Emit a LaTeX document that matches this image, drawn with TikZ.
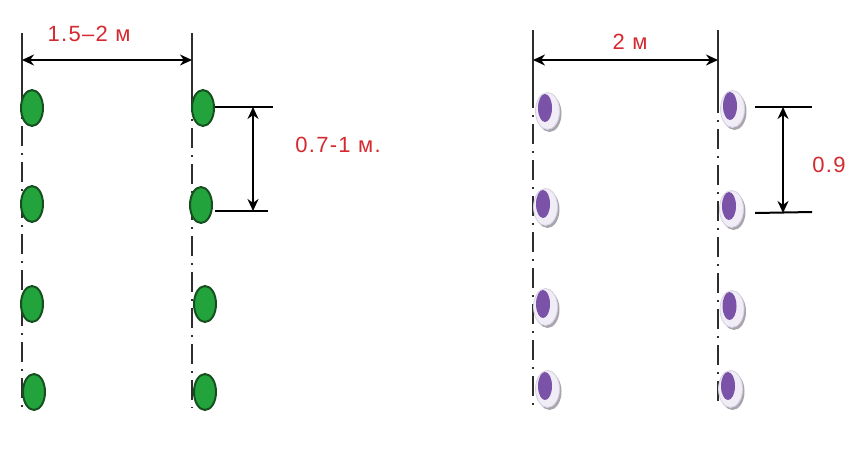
\documentclass[tikz,border=0pt]{standalone}
\usepackage{fontspec}
\setmainfont{Liberation Sans}
\usetikzlibrary{shapes.geometric,arrows.meta,shadows}
\definecolor{gfill}{HTML}{22A33C}
\definecolor{gdark}{HTML}{17501F}
\definecolor{pfill}{HTML}{7A52A8}
\definecolor{pring}{HTML}{F1EDF7}
\definecolor{pedge}{HTML}{D6CFE0}
\definecolor{pshadow}{HTML}{A09CA6}
\definecolor{lbl}{HTML}{D42A2F}
\definecolor{axis}{HTML}{2E2E2E}
\begin{document}
\begin{tikzpicture}[x=1pt,y=-1pt,
  gplant/.style={ellipse, draw=gdark, fill=gfill, line width=2pt, minimum width=22pt, minimum height=36pt, inner sep=0pt},
  pouter/.style={ellipse, fill=pring, draw=pedge, line width=0.8pt, minimum width=24pt, minimum height=37pt, inner sep=0pt, drop shadow={shadow xshift=2pt, shadow yshift=-2.5pt, fill=pshadow, opacity=0.9}},
  pinner/.style={ellipse, fill=pfill, minimum width=14pt, minimum height=28pt, inner sep=0pt},
  rowsolid/.style={draw=axis, line width=2.2pt},
  rowline/.style={draw=axis, line width=2.2pt, dash pattern=on 20pt off 7pt on 2pt off 7pt},
  dimline/.style={draw=black, line width=2pt},
  dimarrow/.style={draw=black, line width=2.6pt, {Stealth[length=12pt,width=11pt]}-{Stealth[length=12pt,width=11pt]}},
  lbltext/.style={text=lbl, font=\fontsize{22}{26}\selectfont\addfontfeature{LetterSpace=6}, inner sep=0pt}
]
\useasboundingbox[fill=white] (0,0) rectangle (850,448);

% ---------- left panel: row lines ----------
\coordinate (L1t) at (22,33);  \coordinate (L1m) at (22,90);  \coordinate (L1b) at (22,410);
\coordinate (L2t) at (192,33); \coordinate (L2m) at (192,92); \coordinate (L2b) at (192,408);
\draw[rowsolid] (L1t) -- (L1m);
\draw[rowline] (L1m) -- (L1b);
\draw[rowsolid] (L2t) -- (L2m);
\draw[rowline] (L2m) -- (L2b);

% width dimension
\coordinate (A1l) at (22,60); \coordinate (A1r) at (192,60);
\draw[dimarrow] (A1l) -- (A1r);
\node[lbltext] (lab1) at (89,34) {1.5–2 м};

% green plants
\node[gplant] (g11) at (32,108) {};
\node[gplant] (g12) at (32,204) {};
\node[gplant] (g13) at (32,304) {};
\node[gplant] (g14) at (34,392) {};
\node[gplant] (g21) at (203,108) {};
\node[gplant] (g22) at (201,205) {};
\node[gplant] (g23) at (205,304) {};
\node[gplant] (g24) at (205,392) {};

% spacing dimension
\coordinate (T1a) at (215,107); \coordinate (T1b) at (273,107);
\coordinate (T2a) at (215,211); \coordinate (T2b) at (268,211);
\coordinate (V1t) at (253,107); \coordinate (V1b) at (253,211);
\draw[dimline] (T1a) -- (T1b);
\draw[dimline] (T2a) -- (T2b);
\draw[dimarrow] (V1t) -- (V1b);
\node[lbltext] (lab2) at (338,145) {0.7-1 м.};

% ---------- right panel: row lines ----------
\coordinate (R1t) at (533,30);  \coordinate (R1m) at (533,88);  \coordinate (R1b) at (533,408);
\coordinate (R2t) at (718,30);  \coordinate (R2m) at (718,93);  \coordinate (R2b) at (718,408);
\draw[rowsolid] (R1t) -- (R1m);
\draw[rowline] (R1m) -- (R1b);
\draw[rowsolid] (R2t) -- (R2m);
\draw[rowline] (R2m) -- (R2b);

\coordinate (A2l) at (533,60); \coordinate (A2r) at (718,60);
\draw[dimarrow] (A2l) -- (A2r);
\node[lbltext] (lab3) at (630,42) {2 м};

% purple plants
\foreach \n/\px/\py in {p11/545/108, p12/543/204, p13/543/304, p14/545/386,
                        p21/730/106, p22/729/206, p23/729.5/306, p24/728/386}{
  \node[pouter] (\n o) at (\px+2.5,\py+3) {};
  \node[pinner] (\n) at (\px,\py) {};
}

% spacing dimension
\coordinate (T3a) at (755,107); \coordinate (T3b) at (812,107);
\coordinate (T4a) at (755,213); \coordinate (T4b) at (812,212);
\coordinate (V2t) at (783,107); \coordinate (V2b) at (783,213);
\draw[dimline] (T3a) -- (T3b);
\draw[dimline] (T4a) -- (T4b);
\draw[dimarrow] (V2t) -- (V2b);
\node[lbltext] (lab4) at (829,165) {0.9};
\end{tikzpicture}
\end{document}
